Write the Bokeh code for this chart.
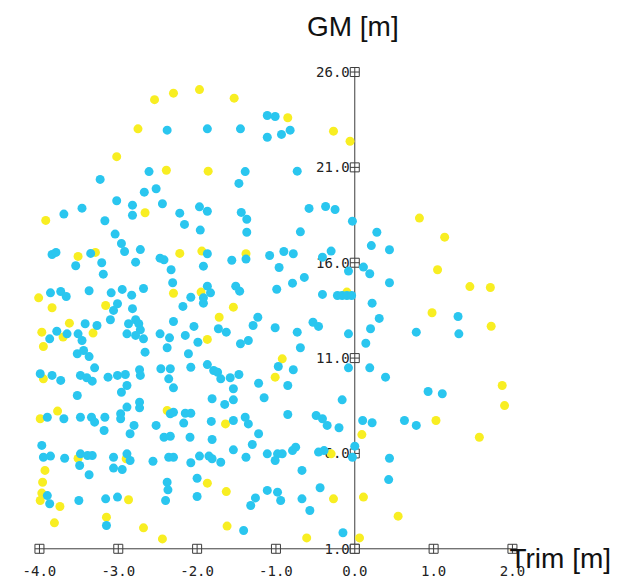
from bokeh.plotting import figure
from bokeh.models import Range1d, Label, LabelSet, ColumnDataSource
from bokeh.core.properties import value
from bokeh.embed import file_html
from bokeh.resources import INLINE

# ---- axes / ticks ----
trim_ticks = [-4.0, -3.0, -2.0, -1.0, 0.0, 1.0, 2.0]
trim_tick_labels = ["-4.0", "-3.0", "-2.0", "-1.0", "0.0", "1.0", "2.0"]
gm_ticks = [1.0, 6.0, 11.0, 16.0, 21.0, 26.0]
gm_tick_labels = ["1.0", "6.0", "11.0", "16.0", "21.0", "26.0"]

# ---- yellow series (Trim [m], GM [m]) ----
yellow_trim = [-2.54, -2.30, -1.97, -1.53, -0.85, -2.75, -3.02, -2.39, -1.86, -2.66,
               -3.92, -3.51, -3.29, -2.22, -1.94, -1.38, -2.30, -1.95, -4.01, -3.84,
               -3.16, -1.54, -3.62, -3.97, -3.32, -3.70, -3.95, -1.72, -1.87, -0.92,
               -1.01, -3.95, -3.99, -3.77, -2.38, -1.64, -2.90, -3.51, -3.93, -3.96,
               -3.97, -3.99, -3.74, -2.87, -1.87, -1.63, -3.81, -3.15, -2.68, -1.62,
               -2.44, -0.27, -0.06, 0.82, 1.14, 1.05, 1.46, 1.72, 0.98, 1.73,
               1.87, 1.90, 1.03, 1.58, 0.09, -0.30, -0.27, 0.11, 0.55, 0.06,
               -0.61, -0.10]
yellow_gm = [24.55, 24.89, 25.08, 24.63, 23.60, 23.02, 21.56, 20.85, 20.80, 18.62,
             18.22, 16.33, 16.54, 16.49, 16.61, 16.47, 14.40, 14.46, 14.16, 13.64,
             13.76, 13.67, 12.83, 12.36, 12.31, 12.10, 11.61, 13.14, 11.98, 10.96,
             10.00, 9.91, 7.82, 8.22, 8.25, 7.55, 5.72, 5.74, 5.11, 4.49,
             3.92, 3.53, 3.22, 3.57, 4.44, 4.00, 2.36, 2.66, 2.10, 2.19,
             1.52, 22.90, 22.37, 18.34, 17.34, 15.63, 14.75, 14.70, 13.38, 12.67,
             9.56, 8.51, 7.73, 6.85, 6.99, 5.98, 3.62, 3.71, 2.71, 1.57,
             1.57, 14.46]

# ---- cyan series (Trim [m], GM [m]) ----
cyan_trim = [-1.11, -1.01, -2.38, -1.87, -1.45, -1.11, -0.93, -0.82, -2.61, -1.39,
             -0.73, -3.23, -1.47, -2.67, -2.52, -3.02, -2.82, -2.44, -1.97, -1.87,
             -3.46, -3.69, -2.82, -2.22, -1.44, -1.37, -0.58, -3.17, -2.16, -1.96,
             -1.37, -0.69, -3.04, -2.96, -2.92, -2.72, -3.84, -3.79, -3.35, -3.54,
             -3.21, -2.78, -2.47, -2.42, -1.87, -1.92, -1.56, -1.38, -1.08, -0.90,
             -0.78, -0.96, -3.19, -2.33, -0.64, -3.86, -3.73, -3.66, -3.37, -3.09,
             -2.95, -2.83, -2.68, -2.31, -2.08, -1.87, -1.83, -1.92, -1.51, -1.46,
             -0.99, -0.79, -3.06, -3.01, -3.10, -2.82, -2.18, -1.92, -2.87, -2.78,
             -2.74, -2.72, -2.89, -2.78, -2.68, -2.30, -2.04, -1.73, -1.63, -1.45,
             -1.35, -1.29, -1.23, -1.01, -0.73, -0.69, -0.53, -3.42, -3.27, -3.51,
             -3.46, -3.65, -3.78, -3.87, -2.47, -2.35, -2.15, -1.99, -2.38, -2.66,
             -2.11, -3.52, -3.44, -3.37, -3.30, -3.48, -3.40, -3.33, -3.84, -3.73,
             -3.99, -3.13, -3.01, -2.91, -2.73, -2.72, -2.46, -2.34, -2.36, -2.30,
             -2.08, -1.87, -1.79, -1.74, -1.70, -1.58, -1.47, -1.54, -1.22, -1.15,
             -0.97, -0.85, -0.78, -3.52, -2.96, -2.89, -1.81, -1.65, -1.54, -2.89,
             -2.97, -2.97, -2.73, -2.73, -3.34, -3.30, -3.48, -3.69, -3.90, -3.17,
             -3.18, -2.80, -2.85, -2.52, -2.34, -2.30, -2.15, -2.08, -2.17, -1.82,
             -1.54, -1.39, -1.35, -1.22, -0.85, -0.49, -3.97, -3.95, -3.86, -3.68,
             -3.48, -3.39, -3.33, -3.49, -3.37, -3.06, -3.06, -2.95, -2.89, -2.85,
             -2.56, -2.42, -2.34, -2.36, -2.30, -2.09, -2.08, -1.97, -1.85, -1.81,
             -1.81, -1.70, -1.54, -1.38, -1.30, -1.11, -0.98, -0.92, -1.01, -0.79,
             -0.75, -0.67, -2.38, -2.37, -2.00, -2.00, -2.40, -3.50, -3.90, -3.87,
             -3.16, -3.01, -1.32, -1.26, -1.11, -0.98, -0.94, -0.67, -0.57, -3.15,
             -1.41, -0.37, -0.25, -0.03, 0.28, 0.21, 0.44, -0.30, -0.41, -0.08,
             0.11, 0.19, 0.44, -0.41, -0.22, -0.16, -0.10, -0.04, 0.22, 0.31,
             0.20, 0.14, -0.08, -0.46, -0.08, 0.19, 0.39, 0.78, 1.31, 1.32,
             -0.16, 0.93, 1.11, -0.41, -0.35, -0.20, 0.10, 0.22, 0.63, 0.78,
             -0.46, -0.39, 0.00, -0.03, 0.44, 0.43, -0.44, -0.15]
cyan_gm = [23.72, 23.67, 22.95, 23.02, 23.02, 22.58, 22.73, 22.95, 20.78, 20.78,
           20.80, 20.37, 20.16, 19.70, 19.88, 19.25, 19.02, 19.09, 18.93, 18.70,
           18.86, 18.55, 18.49, 18.60, 18.64, 18.28, 18.85, 18.20, 18.01, 17.71,
           17.60, 17.62, 17.50, 17.01, 16.59, 16.69, 16.43, 16.54, 16.49, 15.84,
           16.00, 16.03, 16.24, 16.15, 16.47, 15.82, 16.13, 16.19, 16.38, 16.59,
           16.47, 15.75, 15.40, 15.63, 15.23, 14.42, 14.49, 14.23, 14.53, 14.42,
           14.60, 14.30, 14.65, 14.95, 14.19, 14.77, 14.42, 14.16, 14.77, 14.51,
           14.61, 14.93, 13.50, 13.85, 13.01, 13.59, 13.71, 13.88, 12.80, 13.01,
           12.80, 12.48, 12.27, 12.19, 12.01, 12.92, 12.66, 12.54, 12.36, 11.75,
           11.92, 12.71, 13.14, 12.59, 12.36, 11.54, 12.88, 12.80, 12.71, 12.27,
           11.92, 12.27, 12.41, 12.01, 12.27, 12.06, 12.19, 11.83, 11.54, 11.31,
           11.23, 11.23, 11.40, 11.08, 10.49, 10.09, 9.97, 9.79, 10.09, 9.83,
           10.18, 10.00, 10.09, 10.14, 10.39, 10.09, 10.44, 10.44, 9.91, 9.44,
           10.52, 10.66, 10.35, 10.26, 9.91, 9.97, 10.14, 9.39, 9.68, 8.92,
           10.56, 9.56, 10.39, 9.04, 9.21, 9.56, 8.87, 8.57, 8.81, 8.43,
           8.08, 7.82, 8.69, 8.39, 7.90, 7.64, 7.90, 7.82, 7.90, 7.90,
           7.20, 7.47, 7.03, 7.47, 8.08, 8.16, 8.11, 8.11, 7.59, 7.68,
           7.73, 7.90, 7.55, 7.03, 8.04, 7.99, 6.42, 5.80, 5.86, 5.75,
           5.98, 5.89, 5.89, 5.37, 4.88, 5.80, 5.23, 5.16, 5.98, 5.63,
           5.59, 6.85, 6.90, 5.80, 5.80, 6.85, 5.51, 5.86, 5.86, 5.72,
           6.73, 5.54, 6.19, 5.80, 6.47, 5.98, 5.98, 5.98, 5.63, 6.15,
           6.33, 5.11, 4.49, 4.09, 4.70, 3.74, 3.53, 3.53, 3.79, 3.36,
           3.62, 3.71, 3.27, 3.67, 4.06, 3.97, 3.53, 3.62, 3.01, 2.22,
           1.96, 18.95, 18.79, 18.18, 17.60, 16.90, 16.68, 16.61, 16.29, 15.56,
           15.77, 15.42, 14.95, 14.34, 14.28, 14.28, 14.28, 14.28, 13.88, 13.08,
           12.54, 11.78, 12.27, 12.66, 10.49, 10.49, 10.00, 12.36, 13.18, 12.27,
           8.81, 9.25, 9.13, 7.82, 7.47, 7.35, 7.73, 7.61, 7.73, 7.47,
           6.07, 6.15, 6.38, 5.80, 5.75, 4.63, 4.20, 1.84]

AXIS = "#3c3c3c"
CYAN = "#2AC6EF"
YELLOW = "#F8EE22"

p = figure(width=622, height=579, output_backend="svg", toolbar_location=None,
           x_range=Range1d(-4.494, 3.396), y_range=Range1d(-0.61, 29.75),
           x_axis_location=None, y_axis_location=None, min_border=0)
p.grid.visible = False
p.outline_line_color = None
p.background_fill_color = "white"
p.border_fill_color = "white"

x_origin = trim_ticks[4]   # vertical axis at Trim = 0.0
y_origin = gm_ticks[0]     # horizontal axis at GM = 1.0

# axis lines
p.segment(x0=[min(trim_ticks)], y0=[y_origin], x1=[max(trim_ticks)], y1=[y_origin],
          line_color=AXIS, line_width=1)
p.segment(x0=[x_origin], y0=[min(gm_ticks)], x1=[x_origin], y1=[max(gm_ticks)],
          line_color=AXIS, line_width=1)

# tick boxes
p.scatter(x=trim_ticks, y=[y_origin] * len(trim_ticks), marker="square_cross", size=9,
          fill_color="white", line_color=AXIS, line_width=1)
p.scatter(x=[x_origin] * len(gm_ticks), y=gm_ticks, marker="square_cross", size=9,
          fill_color="white", line_color=AXIS, line_width=1)

# tick labels (drawn beneath the data points, as in the reference)
xsrc = ColumnDataSource(dict(x=trim_ticks, y=[y_origin] * len(trim_ticks), t=trim_tick_labels))
ysrc = ColumnDataSource(dict(x=[x_origin] * len(gm_ticks), y=gm_ticks, t=gm_tick_labels))
p.add_layout(LabelSet(x="x", y="y", text="t", source=xsrc, level="underlay",
                      text_align="center", text_baseline="alphabetic", y_offset=-27,
                      text_font=value("DejaVu Sans Mono"), text_font_size="14px",
                      text_color="#222222"))
p.add_layout(LabelSet(x="x", y="y", text="t", source=ysrc, level="underlay",
                      text_align="right", text_baseline="middle", x_offset=-5,
                      text_font=value("DejaVu Sans Mono"), text_font_size="14px",
                      text_color="#222222"))

# data points
p.scatter(yellow_trim, yellow_gm, size=9, fill_color=YELLOW, line_color=None)
p.scatter(cyan_trim, cyan_gm, size=9, fill_color=CYAN, line_color=None)

# axis titles
p.add_layout(Label(x=x_origin, y=max(gm_ticks), text="GM [m]", x_offset=-2, y_offset=46,
                   text_align="center", text_baseline="alphabetic",
                   text_font="Liberation Sans", text_font_size="28px", text_color="#111111"))
p.add_layout(Label(x=max(trim_ticks), y=y_origin, text="Trim [m]", x_offset=-3, y_offset=-10,
                   text_align="left", text_baseline="alphabetic",
                   text_font="Liberation Sans", text_font_size="28px", text_color="#111111"))

open("out.html", "w").write(file_html(p, INLINE))
